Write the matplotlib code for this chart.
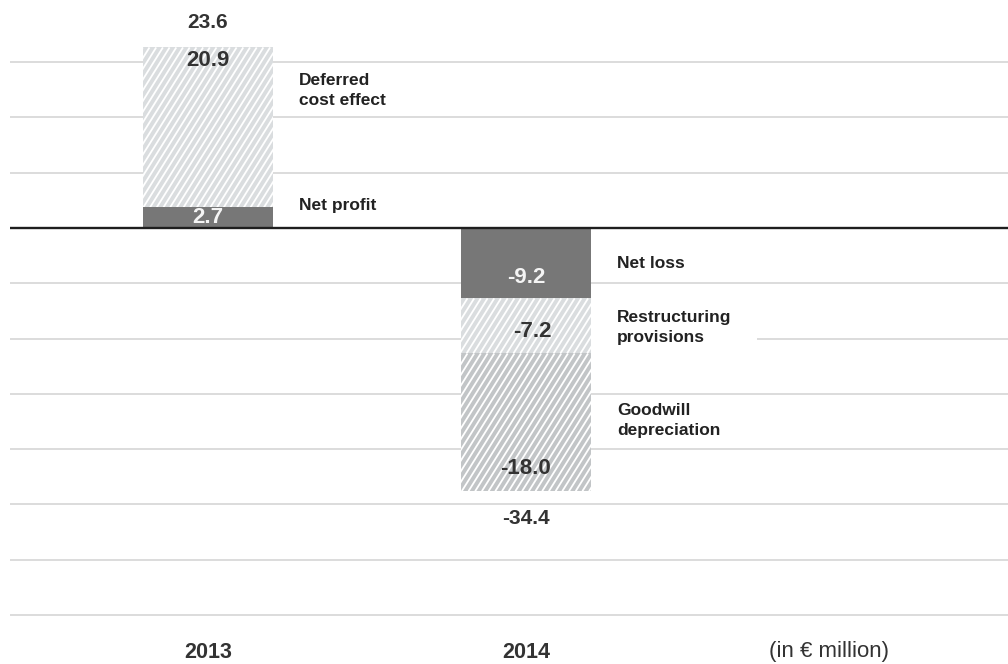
import numpy as np
import matplotlib.pyplot as plt
from matplotlib.patches import Rectangle
from matplotlib.collections import LineCollection

plt.rcParams['font.family'] = ['Liberation Sans', 'DejaVu Sans']

# result bridge, in EUR million
years = ['2013', '2014']
net_result = [2.7, -9.2]
net_names = ['Net profit', 'Net loss']
deferred_cost = 20.9      # 2013
restructuring = -7.2      # 2014
goodwill = -18.0          # 2014
totals = [23.6, -34.4]
unit_note = '(in € million)'

# layout
W, H = 1008, 664
xlim = (-0.654, 2.516)
px_per_unit = 7.65
zero_px = 228
grid_step = 55.3 / px_per_unit
w = 0.41
dark = '#777777'
light = '#dadddf'
mid = '#c2c5c7'
txt = '#333333'

fig = plt.figure(figsize=(W / 100, H / 100), dpi=100)
ax = fig.add_axes([0, 0, 1, 1])
ax.set_xlim(*xlim)
ax.set_ylim(-(H - zero_px) / px_per_unit, zero_px / px_per_unit)
ax.axis('off')
x_px = W / (xlim[1] - xlim[0])


def stripes(bar, gap=6.7, slope=1.6):
    # white diagonal stripes, clipped to the bar
    x0, bw = bar.get_x(), bar.get_width()
    ylo, yhi = sorted([bar.get_y(), bar.get_y() + bar.get_height()])
    shift = (yhi - ylo) * px_per_unit / slope
    starts = np.arange(x0 * x_px - shift, (x0 + bw) * x_px + gap, gap)
    segs = [[(s / x_px, ylo), ((s + shift) / x_px, yhi)] for s in starts]
    lc = LineCollection(segs, colors='white', linewidths=1.3, zorder=3.5)
    ax.add_collection(lc)
    lc.set_clip_path(bar)


# horizontal grid + zero line
for k in range(-7, 4):
    if k == 0:
        continue
    ax.hlines(k * grid_step, -0.623, xlim[1], color='#d2d2d2', lw=1.1, zorder=1)
ax.hlines(0, -0.623, xlim[1], color='#1e1e1e', lw=1.7, zorder=5)

x = np.arange(len(years))
ax.bar(x, net_result, w, color=dark, lw=0, zorder=3)
b1 = ax.bar(x[0], deferred_cost, w, bottom=net_result[0], color=light, lw=0, zorder=3)
b2 = ax.bar(x[1], restructuring, w, bottom=net_result[1], color=light, lw=0, zorder=3)
b3 = ax.bar(x[1], goodwill, w, bottom=net_result[1] + restructuring, color=mid,
            lw=0, zorder=3)
for b in (b1, b2, b3):
    stripes(b[0])

# values inside the segments
vfont = dict(fontsize=16, fontweight='bold', ha='center', va='center', zorder=6)
ax.text(x[0], net_result[0] / 2, f'{net_result[0]:.1f}', color='#f4f4f4', **vfont)
ax.text(x[0], net_result[0] + deferred_cost - 1.7, f'{deferred_cost:.1f}', color=txt, **vfont)
ax.text(x[1], net_result[1] + 2.7, f'{net_result[1]:.1f}', color='#f4f4f4', **vfont)
ax.text(x[1] + 0.02, net_result[1] + restructuring / 2 - 0.7, f'{restructuring:.1f}', color=txt, **vfont)
ax.text(x[1], totals[1] + 3.0, f'{goodwill:.1f}', color=txt, **vfont)

# totals above / below the bars
ax.text(x[0], totals[0] + 3.2, f'{totals[0]:.1f}', color=txt, fontsize=15,
        fontweight='bold', ha='center', va='center')
ax.text(x[1], totals[1] - 3.6, f'{totals[1]:.1f}', color=txt, fontsize=15,
        fontweight='bold', ha='center', va='center')

# segment names to the right of the bars, on white so grid lines break behind them
labels = [
    (x[0], 18.0, 'Deferred\ncost effect'),
    (x[0], 3.0, net_names[0]),
    (x[1], -4.6, net_names[1]),
    (x[1], -13.0, 'Restructuring\nprovisions'),
    (x[1], -25.2, 'Goodwill\ndepreciation'),
]
for xi, yi, s in labels:
    n = s.count('\n') + 1
    h = 2.0 * n + 0.4
    ax.add_patch(Rectangle((xi + w / 2, yi - h / 2), 0.522, h, fc='white',
                           ec='none', zorder=2))
    ax.text(xi + w / 2 + 0.081, yi, s, fontsize=12.5, fontweight='bold',
            color='#222222', ha='left', va='center', linespacing=1.4, zorder=4)

# year axis
year_y = (zero_px - 652) / px_per_unit
for xi, yr in zip(x, years):
    ax.text(xi, year_y, yr, fontsize=15.5, fontweight='bold', color=txt,
            ha='center', va='center')
ax.text(1.953, year_y, unit_note, fontsize=16, color=txt, ha='center', va='center')

fig.savefig('out.png', dpi=100)
